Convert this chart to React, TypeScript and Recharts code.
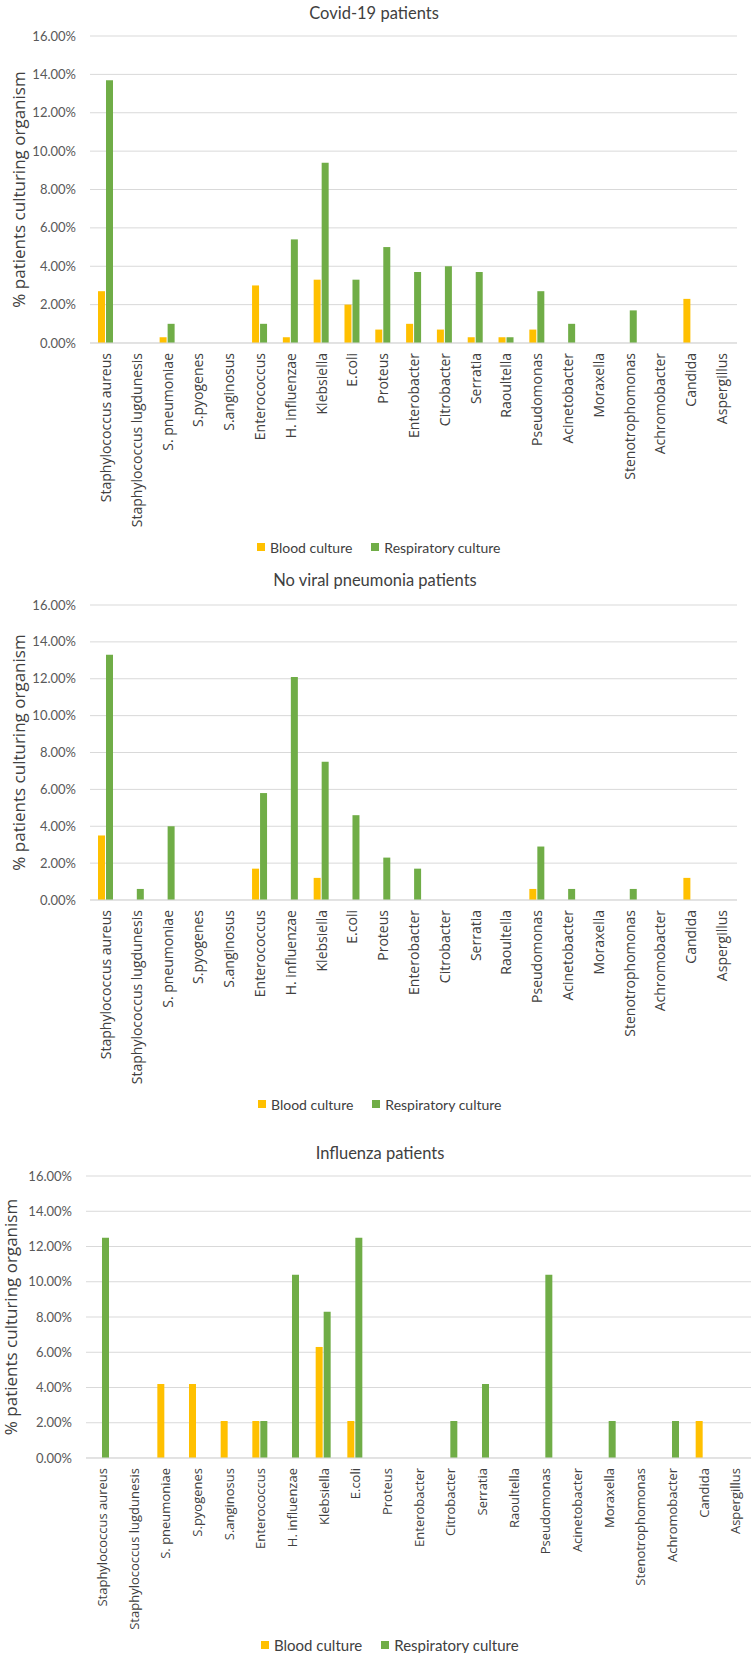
import React from "react";
import { BarChart, Bar, XAxis, YAxis, CartesianGrid, Label } from "recharts";

const categories = [
  "Staphylococcus aureus",
  "Staphylococcus lugdunesis",
  "S. pneumoniae",
  "S.pyogenes",
  "S.anginosus",
  "Enterococcus",
  "H. influenzae",
  "Klebsiella",
  "E.coli",
  "Proteus",
  "Enterobacter",
  "Citrobacter",
  "Serratia",
  "Raoultella",
  "Pseudomonas",
  "Acinetobacter",
  "Moraxella",
  "Stenotrophomonas",
  "Achromobacter",
  "Candida",
  "Aspergillus",
];

const covidBlood = [2.7, 0, 0.3, 0, 0, 3.0, 0.3, 3.3, 2.0, 0.7, 1.0, 0.7, 0.3, 0.3, 0.7, 0, 0, 0, 0, 2.3, 0];
const covidResp = [13.7, 0, 1.0, 0, 0, 1.0, 5.4, 9.4, 3.3, 5.0, 3.7, 4.0, 3.7, 0.3, 2.7, 1.0, 0, 1.7, 0, 0, 0];

const noViralBlood = [3.5, 0, 0, 0, 0, 1.7, 0, 1.2, 0, 0, 0, 0, 0, 0, 0.6, 0, 0, 0, 0, 1.2, 0];
const noViralResp = [13.3, 0.6, 4.0, 0, 0, 5.8, 12.1, 7.5, 4.6, 2.3, 1.7, 0, 0, 0, 2.9, 0.6, 0, 0.6, 0, 0, 0];

const fluBlood = [0, 0, 4.2, 4.2, 2.1, 2.1, 0, 6.3, 2.1, 0, 0, 0, 0, 0, 0, 0, 0, 0, 0, 2.1, 0];
const fluResp = [12.5, 0, 0, 0, 0, 2.1, 10.4, 8.3, 12.5, 0, 0, 2.1, 4.2, 0, 10.4, 0, 2.1, 0, 2.1, 0, 0];

const yTicks = [0, 2, 4, 6, 8, 10, 12, 14, 16];
const seriesNames = ["Blood culture", "Respiratory culture"];
const titles = ["Covid-19 patients", "No viral pneumonia patients", "Influenza patients"];
const axisTitle = "% patients culturing organism";

const BLOOD = "#FFC000";
const RESP = "#70AD47";
const GRID = "#D9D9D9";

const build = (blood: number[], resp: number[]) =>
  categories.map((name, i) => ({ name, blood: blood[i], resp: resp[i] }));

const XTick = (props: any) => {
  const { x, y, payload, fs } = props;
  const yy = y + 10;
  return (
    <text
      x={x}
      y={yy}
      transform={`rotate(-90 ${x} ${yy})`}
      textAnchor="end"
      dominantBaseline="central"
      fontFamily="'Open Sans', sans-serif"
      fontSize={fs}
      fill="#404040"
    >
      {payload.value}
    </text>
  );
};

type Cfg = {
  top: number;
  height: number;
  marginTop: number;
  marginRight: number;
  yAxisWidth: number;
  xAxisHeight: number;
  title: string;
  titleX: number;
  titleY: number;
  legendLeft: number;
  legendY: number;
  axisTitleX: number;
  xFont: number;
  legendFont: number;
  data: any[];
};

const ChartBlock = ({ c }: { c: Cfg }) => (
  <div style={{ position: "absolute", left: 0, top: c.top, width: 752, height: c.height }}>
    <BarChart
      width={752}
      height={c.height}
      data={c.data}
      margin={{ top: c.marginTop, right: c.marginRight, left: 0, bottom: 0 }}
      barSize={7}
      barGap={1}
    >
      <CartesianGrid vertical={false} stroke={GRID} />
      <XAxis
        dataKey="name"
        interval={0}
        height={c.xAxisHeight}
        tickLine={false}
        tickSize={0}
        tickMargin={0}
        axisLine={{ stroke: GRID }}
        tick={<XTick fs={c.xFont} />}
      />
      <YAxis
        width={c.yAxisWidth}
        domain={[0, 16]}
        ticks={yTicks}
        interval={0}
        axisLine={false}
        tickLine={false}
        tickSize={0}
        tickMargin={14}
        tickFormatter={(v: number) => `${v.toFixed(2)}%`}
        tick={{ fontFamily: "Lato, sans-serif", fontSize: 13, fill: "#595959" }}
      >
        <Label
          content={(p: any) => {
            const vb = p.viewBox || {};
            const cx = c.axisTitleX;
            const cy = vb.y + vb.height / 2;
            return (
              <text
                x={cx}
                y={cy}
                transform={`rotate(-90 ${cx} ${cy})`}
                textAnchor="middle"
                dominantBaseline="central"
                fontFamily="'Open Sans', sans-serif"
                fontSize={17}
                fill="#404040"
              >
                {axisTitle}
              </text>
            );
          }}
        />
      </YAxis>
      <Bar dataKey="blood" name={seriesNames[0]} fill={BLOOD} isAnimationActive={false} />
      <Bar dataKey="resp" name={seriesNames[1]} fill={RESP} isAnimationActive={false} />
    </BarChart>
    <div
      style={{
        position: "absolute",
        left: 0,
        width: 2 * c.titleX,
        top: c.titleY - 11,
        height: 22,
        lineHeight: "22px",
        textAlign: "center",
        fontFamily: "Lato, sans-serif",
        fontSize: 16.5,
        color: "#404040",
        whiteSpace: "nowrap",
      }}
    >
      {c.title}
    </div>
    <div
      style={{
        position: "absolute",
        left: c.legendLeft,
        top: c.legendY - 10,
        height: 20,
        display: "flex",
        alignItems: "center",
        fontFamily: "Lato, sans-serif",
        fontSize: c.legendFont,
        color: "#404040",
        whiteSpace: "nowrap",
      }}
    >
      <span style={{ display: "inline-block", width: 8, height: 8, background: BLOOD, marginRight: 5 }} />
      <span style={{ marginRight: 19 }}>{seriesNames[0]}</span>
      <span style={{ display: "inline-block", width: 8, height: 8, background: RESP, marginRight: 5 }} />
      <span>{seriesNames[1]}</span>
    </div>
  </div>
);

const configs: Cfg[] = [
  {
    top: 0,
    height: 560,
    marginTop: 36,
    marginRight: 15,
    yAxisWidth: 90,
    xAxisHeight: 217,
    title: titles[0],
    titleX: 374,
    titleY: 13,
    legendLeft: 257,
    legendY: 547,
    axisTitleX: 18,
    xFont: 14,
    legendFont: 14,
    data: build(covidBlood, covidResp),
  },
  {
    top: 560,
    height: 560,
    marginTop: 45,
    marginRight: 15,
    yAxisWidth: 90,
    xAxisHeight: 220,
    title: titles[1],
    titleX: 375,
    titleY: 20,
    legendLeft: 258,
    legendY: 544,
    axisTitleX: 18,
    xFont: 14,
    legendFont: 14,
    data: build(noViralBlood, noViralResp),
  },
  {
    top: 1120,
    height: 533,
    marginTop: 56,
    marginRight: 1,
    yAxisWidth: 86,
    xAxisHeight: 195,
    title: titles[2],
    titleX: 380,
    titleY: 33,
    legendLeft: 261,
    legendY: 525,
    axisTitleX: 10,
    xFont: 13,
    legendFont: 15,
    data: build(fluBlood, fluResp),
  },
];

export default function App() {
  return (
    <div style={{ position: "absolute", left: 0, top: 0, width: 752, height: 1653, background: "#fff" }}>
      {configs.map((c, i) => (
        <ChartBlock key={i} c={c} />
      ))}
    </div>
  );
}
